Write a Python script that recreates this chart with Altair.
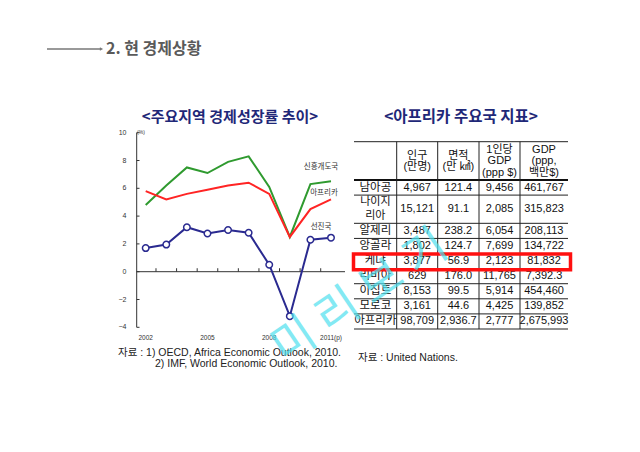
import altair as alt
import pandas as pd

# ---------------- data ----------------
years = [2002, 2003, 2004, 2005, 2006, 2007, 2008, 2009, 2010, 2011]
emerging = [4.8, 6.2, 7.5, 7.1, 7.9, 8.3, 6.1, 2.5, 6.3, 6.5]
africa = [5.8, 5.2, 5.6, 5.9, 6.2, 6.4, 5.6, 2.5, 4.5, 5.2]
advanced = [1.7, 1.95, 3.2, 2.75, 3.0, 2.8, 0.5, -3.2, 2.3, 2.45]
series_names = ["신흥개도국", "아프리카", "선진국"]
series_colors = ["#2f9a2f", "#ff2424", "#2a2a90"]
y_ticks = [-4, -2, 0, 2, 4, 6, 8, 10]
x_label_years = [2002, 2005, 2008, 2011]
x_labels = ["2002", "2005", "2008", "2011(p)"]

countries = ["남아공", "나이지\n리아", "알제리", "앙골라", "케냐", "리비아", "이집트", "모로코", "아프리카"]
population = ["4,967", "15,121", "3,487", "1,802", "3,877", "629", "8,153", "3,161", "98,709"]
area = ["121.4", "91.1", "238.2", "124.7", "56.9", "176.0", "99.5", "44.6", "2,936.7"]
gdp_pc = ["9,456", "2,085", "6,054", "7,699", "2,123", "11,765", "5,914", "4,425", "2,777"]
gdp = ["461,767", "315,823", "208,113", "134,722", "81,832", "7,392.3", "454,460", "139,852", "2,675,993"]
headers = ["인구\n(만명)", "면적\n(만 ㎢)", "1인당\nGDP\n(ppp $)", "GDP\n(ppp,\n백만$)"]

# ---------------- layout helpers ----------------
KR = "Noto Sans CJK KR"
NUM = "Liberation Sans, Noto Sans CJK KR"


def px(v):
    return v - 8


def label(text, x, y, **kw):
    return alt.Chart(pd.DataFrame({"t": [text]})).mark_text(**kw).encode(
        text="t:N", x=alt.value(px(x)), y=alt.value(px(y))
    )


# ---------------- line chart ----------------
xs = alt.Scale(domain=[2002, 2011], range=[px(145.7), px(331)])
ys = alt.Scale(domain=[-4, 10], range=[px(327.3), px(132.7)])

rows = []
for name, vals in zip(series_names, [emerging, africa, advanced]):
    for yr, v in zip(years, vals):
        rows.append({"year": yr, "value": v, "series": name})
df_lines = pd.DataFrame(rows)

lines = alt.Chart(df_lines).mark_line(strokeWidth=2).encode(
    x=alt.X("year:Q", scale=xs, axis=None),
    y=alt.Y("value:Q", scale=ys, axis=None),
    color=alt.Color("series:N", scale=alt.Scale(domain=series_names, range=series_colors), legend=None),
    detail="series:N",
)
points = alt.Chart(df_lines).transform_filter(alt.datum.series == "선진국").mark_point(
    filled=True, fill="white", stroke="#2a2a90", strokeWidth=1.5, size=42, opacity=1
).encode(
    x=alt.X("year:Q", scale=xs, axis=None),
    y=alt.Y("value:Q", scale=ys, axis=None),
)

y_axis_line = alt.Chart(pd.DataFrame({"a": [0]})).mark_rule(color="#333", strokeWidth=1).encode(
    x=alt.value(px(136.7)),
    y=alt.YDatum(-4, type="quantitative", scale=ys, axis=None),
    y2=alt.Y2Datum(10),
)
x_axis_line = alt.Chart(pd.DataFrame({"a": [0]})).mark_rule(color="#333", strokeWidth=1).encode(
    x=alt.value(px(136.7)),
    x2=alt.value(px(345)),
    y=alt.YDatum(0, type="quantitative", scale=ys, axis=None),
)
mids = pd.DataFrame({"m": [y + 0.5 for y in years[:-1]]})
x_ticks = alt.Chart(mids).mark_rule(color="#333", strokeWidth=1).encode(
    x=alt.X("m:Q", scale=xs, axis=None),
    y=alt.YDatum(0, type="quantitative", scale=ys, axis=None),
    y2=alt.Y2Datum(0.25),
)
df_yt = pd.DataFrame({"t": y_ticks})
y_tick_marks = alt.Chart(df_yt).mark_rule(color="#333", strokeWidth=1).encode(
    x=alt.value(px(136.7)), x2=alt.value(px(139.5)),
    y=alt.Y("t:Q", scale=ys, axis=None),
)
y_tick_labels = alt.Chart(df_yt).mark_text(align="right", baseline="middle", fontSize=7, font="Liberation Sans", color="#333").encode(
    x=alt.value(px(126.5)),
    y=alt.Y("t:Q", scale=ys, axis=None),
    text=alt.Text("t:Q"),
)
df_xl = pd.DataFrame({"yr": x_label_years, "lab": x_labels})
x_tick_labels = alt.Chart(df_xl).mark_text(align="center", baseline="middle", fontSize=6.5, font="Liberation Sans", color="#333").encode(
    x=alt.X("yr:Q", scale=xs, axis=None),
    y=alt.value(px(338)),
    text="lab:N",
)

line_group = alt.layer(
    y_axis_line, x_axis_line, x_ticks, y_tick_marks, y_tick_labels, x_tick_labels, lines, points
)

# ---------------- table ----------------
row_units = [1, 1.87, 1, 1, 1, 1, 1, 1, 1]
bounds = [0]
for h in row_units:
    bounds.append(bounds[-1] + h)
centers = [(bounds[i] + bounds[i + 1]) / 2 for i in range(len(row_units))]
tx = alt.Scale(domain=[0, 1, 2, 3, 4, 5], range=[px(354), px(396.7), px(437.7), px(479), px(520), px(568)])
ty = alt.Scale(domain=[0, bounds[-1]], range=[px(180), px(329)])

cell_rows = []
for r in range(len(countries)):
    for c, col in enumerate([population, area, gdp_pc, gdp]):
        cell_rows.append({"c": c + 1.5, "r": centers[r], "t": col[r]})
df_cells = pd.DataFrame(cell_rows)
df_rowlab = pd.DataFrame({"c": [0.5] * len(countries), "r": centers, "t": countries})
df_rowlab["lines"] = df_rowlab["t"].str.count("\n") + 1

cells = alt.Chart(df_cells).mark_text(fontSize=11, font=NUM, color="#111", baseline="middle").encode(
    x=alt.X("c:Q", scale=tx, axis=None), y=alt.Y("r:Q", scale=ty, axis=None), text="t:N"
)
rowlabs1 = alt.Chart(df_rowlab).transform_filter(alt.datum.lines == 1).mark_text(
    fontSize=11.5, font=KR, color="#111", baseline="middle"
).encode(x=alt.X("c:Q", scale=tx, axis=None), y=alt.Y("r:Q", scale=ty, axis=None), text="t:N")
rowlabs2 = alt.Chart(df_rowlab).transform_filter(alt.datum.lines == 2).mark_text(
    fontSize=11, font=KR, color="#111", baseline="middle", lineBreak="\n", lineHeight=13.5, dy=-6.75
).encode(x=alt.X("c:Q", scale=tx, axis=None), y=alt.Y("r:Q", scale=ty, axis=None), text="t:N")

df_head = pd.DataFrame({"c": [1.5, 2.5, 3.5, 4.5], "t": headers})
df_head["lines"] = df_head["t"].str.count("\n") + 1
heads2 = alt.Chart(df_head).transform_filter(alt.datum.lines == 2).mark_text(
    fontSize=11, font=NUM, color="#111", baseline="middle", lineBreak="\n", lineHeight=11.7
).encode(x=alt.X("c:Q", scale=tx, axis=None), y=alt.value(px(155.5)), text="t:N")
heads3 = alt.Chart(df_head).transform_filter(alt.datum.lines == 3).mark_text(
    fontSize=11, font=NUM, color="#111", baseline="middle", lineBreak="\n", lineHeight=11.7
).encode(x=alt.X("c:Q", scale=tx, axis=None), y=alt.value(px(149.5)), text="t:N")

df_h = pd.DataFrame({"b": bounds[1:]})
hlines = alt.Chart(df_h).mark_rule(color="#222", strokeWidth=1).encode(
    x=alt.XDatum(0, type="quantitative", scale=tx, axis=None), x2=alt.X2Datum(5),
    y=alt.Y("b:Q", scale=ty, axis=None),
)
header_line = alt.Chart(pd.DataFrame({"a": [0]})).mark_rule(color="#111", strokeWidth=2).encode(
    x=alt.XDatum(0, type="quantitative", scale=tx, axis=None), x2=alt.X2Datum(5),
    y=alt.YDatum(0, type="quantitative", scale=ty, axis=None),
)
top_line = alt.Chart(pd.DataFrame({"a": [0]})).mark_rule(color="#222", strokeWidth=1).encode(
    x=alt.XDatum(0, type="quantitative", scale=tx, axis=None), x2=alt.X2Datum(5),
    y=alt.value(px(141.7)),
)
vlines = alt.Chart(pd.DataFrame({"c": [1, 2, 3, 4]})).mark_rule(color="#222", strokeWidth=1).encode(
    x=alt.X("c:Q", scale=tx, axis=None),
    y=alt.value(px(141.7)), y2=alt.value(px(329)),
)
red_box = alt.Chart(pd.DataFrame({"a": [0]})).mark_rect(fillOpacity=0, stroke="#ff1010", strokeWidth=3.5).encode(
    x=alt.value(px(353.5)), x2=alt.value(px(570.5)),
    y=alt.YDatum(bounds[4] + 0.03, type="quantitative", scale=ty, axis=None),
    y2=alt.Y2Datum(bounds[5] + 0.08),
)

table_group = alt.layer(top_line, header_line, hlines, vlines, heads2, heads3, rowlabs1, rowlabs2, cells, red_box)

# ---------------- texts ----------------
texts = [
    label("2. 현 경제상황", 106, 48.5, align="left", baseline="middle", fontSize=16, fontWeight="bold", font=KR, color="#5a5a5a"),
    label("<주요지역 경제성장률 추이>", 230, 117, align="center", baseline="middle", fontSize=15, fontWeight="bold", font=KR, color="#1f2878"),
    label("<아프리카 주요국 지표>", 461, 117, align="center", baseline="middle", fontSize=15.5, fontWeight="bold", font=KR, color="#1f2878"),
    label("(%)", 141, 131.5, align="center", baseline="middle", fontSize=5, font="Liberation Sans", color="#333"),
    label("신흥개도국", 321, 167, align="center", baseline="middle", fontSize=7.5, font=KR, color="#333"),
    label("아프리카", 324, 193, align="center", baseline="middle", fontSize=7.5, font=KR, color="#333"),
    label("선진국", 321, 227, align="center", baseline="middle", fontSize=7.5, font=KR, color="#333"),
    label("자료 : 1) OECD, Africa Economic Outlook, 2010.", 118, 353, align="left", baseline="middle", fontSize=10.5, font=NUM, color="#222"),
    label("2) IMF, World Economic Outlook, 2010.", 155, 363.5, align="left", baseline="middle", fontSize=10.5, font=NUM, color="#222"),
    label("자료 : United Nations.", 358, 358, align="left", baseline="middle", fontSize=10.5, font=NUM, color="#222"),
]
arrow_line = alt.Chart(pd.DataFrame({"a": [0]})).mark_rule(color="#777", strokeWidth=1.3).encode(
    x=alt.value(px(47)), x2=alt.value(px(101)), y=alt.value(px(49))
)
arrow_head = alt.Chart(pd.DataFrame({"a": [0]})).mark_point(shape="triangle-right", filled=True, color="#777", size=14, opacity=1).encode(
    x=alt.value(px(101.5)), y=alt.value(px(49))
)
watermark = label("미 리 보 기", 360, 297, align="center", baseline="middle", fontSize=46, font=KR, color="#4fe0ee", opacity=0.7, angle=326)

chart = alt.layer(
    line_group, table_group, arrow_line, arrow_head, *texts, watermark
).resolve_scale(x="independent", y="independent").properties(
    width=624, height=436, autosize=alt.AutoSizeParams(type="none"), padding=0, background="white"
).configure_view(stroke=None)

chart.save("out.html", embed_options={"renderer": "svg", "actions": False})
